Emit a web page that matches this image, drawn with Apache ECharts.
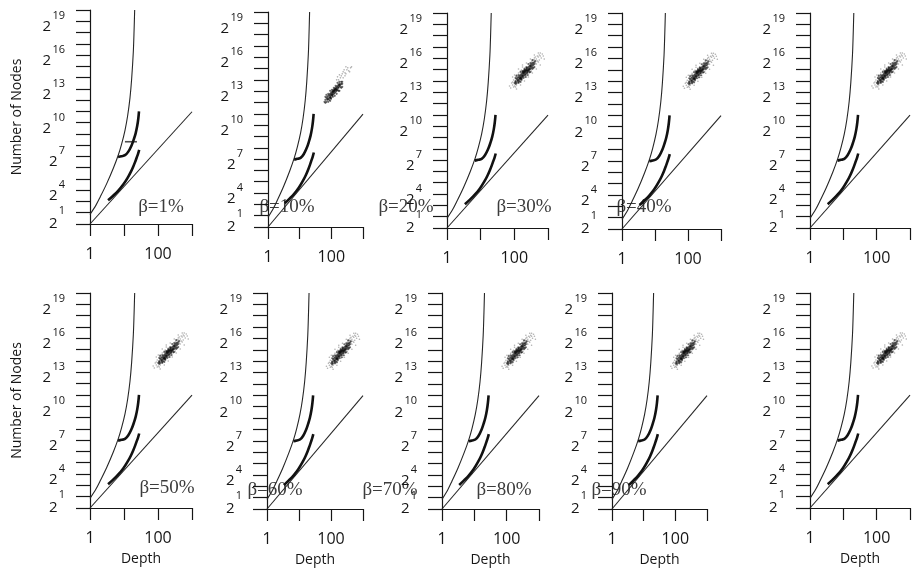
<!DOCTYPE html>
<html>
<head>
<meta charset="utf-8">
<script src="https://cdn.jsdelivr.net/npm/echarts@6/dist/echarts.min.js"></script>
<style>
html, body { margin: 0; padding: 0; background: #fff; }
#chart { width: 913px; height: 575px; }
</style>
</head>
<body>
<div id="chart"></div>
<script>
// ---- data ----------------------------------------------------------------
const betaLabels = ['β=1%', 'β=10%', 'β=20%', 'β=30%', 'β=40%',
                    'β=50%', 'β=60%', 'β=70%', 'β=80%', 'β=90%'];

// tick labels
const depthTickLabels = [1, 100];
const nodeTickExponents = [1, 4, 7, 10, 13, 16, 19];

// steep bound: [depth, nodes]
const upperBound = [[1, 1.8], [1.5, 3.2], [2, 5.3], [3.1, 12], [4.85, 31], [6.8, 70],
  [8.5, 137], [10.7, 320], [12.8, 780], [15, 2350], [16.8, 7600], [18.8, 40000],
  [19.8, 150000], [20.6, 524288]];

// linear bound: nodes = depth
const lowerBound = [[1, 1], [1000, 1000]];

// measured curves: [depth, nodes]
const upperCurve = [[6.7, 62], [8.5, 65], [10.7, 69], [13.4, 86], [16.8, 128], [19.5, 185],
  [22, 265], [24.5, 420], [26.3, 650], [27.6, 1024]];
const lowerCurve = [[3.4, 4.3], [4.8, 5.7], [6.8, 7.8], [9.5, 11.3], [13.4, 18.5], [16, 25],
  [18.9, 35], [21.5, 47], [23.7, 60], [26, 76], [28, 96]];

// crosshair mark on the β=1% panel
const markPoint1 = [[16, 158]];

// sampled trees for β=10%: [depth, nodes]
const cloud10Core = [
  [61, 2144], [65, 2421], [70, 2144], [70, 2738], [75, 2421], [75, 2911], [80, 2575], [80, 3092],
  [86, 2738], [86, 3291], [86, 2421], [92, 2911], [92, 3496], [92, 3092], [98, 3291], [98, 3718],
  [98, 2738], [105, 3496], [105, 3950], [105, 3092], [112, 3718], [112, 4200], [112, 3291],
  [120, 3950], [120, 4464], [120, 3496], [128, 4200], [128, 4743], [128, 3718], [137, 4464],
  [137, 3950], [137, 5043], [147, 4743], [147, 4200], [147, 5361], [157, 5043], [157, 4464],
  [157, 5699], [169, 5361], [169, 6059], [180, 5699], [180, 6439], [193, 6059], [206, 6439],
  [206, 7277], [221, 7277], [65, 2017],
  [65, 2911], [70, 3291], [80, 3496], [92, 4200], [105, 4464], [120, 5043], [137, 5699],
  [157, 6846], [180, 7277], [80, 2144], [92, 2278], [98, 2575], [112, 2911], [128, 3092],
  [147, 3496], [169, 4200], [180, 4200], [206, 5043], [221, 5361], [75, 2575], [112, 3950],
  [128, 4464], [147, 4464], [169, 5043], [193, 5361], [221, 6439], [92, 2738], [105, 3291],
  [120, 4200], [137, 4743], [180, 6059]];
const cloud10Halo = [
  [157, 9875], [180, 11160], [206, 10500], [236, 13400], [270, 12610], [310, 15140], [354, 14250],
  [406, 17120], [434, 18190], [221, 11860], [253, 15140], [289, 11860], [331, 17120], [193, 9290],
  [169, 8224], [236, 9290], [270, 10500], [379, 13400], [147, 8224], [289, 18190]];

// sampled trees for β >= 20%: [depth, nodes]
const cloudCore = [
  [102, 7220], [109, 8150], [109, 6790], [116, 7220], [116, 9220], [125, 8150], [125, 9800],
  [133, 8670], [133, 10410], [133, 7670], [143, 9220], [143, 11080], [143, 8150], [143, 9800],
  [153, 9800], [153, 11770], [153, 10410], [163, 11080], [163, 12520], [163, 9220], [163, 9800],
  [175, 11770], [175, 13300], [175, 10410], [175, 14140], [187, 12520], [187, 14140], [187, 11080],
  [187, 15030], [200, 13300], [200, 15030], [200, 11770], [200, 15970], [214, 14140], [214, 15970],
  [214, 12520], [214, 11770], [229, 15030], [229, 13300], [229, 16980], [229, 18050], [245, 15970],
  [245, 14140], [245, 18050], [245, 13300], [262, 16980], [262, 15030], [262, 19190], [262, 15970],
  [281, 18050], [281, 15970], [281, 20400], [300, 19190], [300, 16980], [300, 21680], [321, 20400],
  [321, 23050], [344, 21680], [344, 19190], [368, 24500],
  [109, 9800], [116, 11080], [133, 11770], [153, 14140], [175, 15030], [200, 16980], [229, 19190],
  [262, 23050], [300, 24500], [344, 29430], [133, 7220], [153, 7670], [163, 8670], [187, 9800],
  [214, 10410], [245, 11770], [281, 14140], [300, 14140], [344, 16980], [368, 18050], [393, 19190],
  [125, 8670], [187, 13300], [214, 15030], [245, 15030], [281, 16980], [321, 18050], [344, 24500],
  [368, 21680], [393, 23050], [109, 7670], [153, 9220], [175, 11080], [200, 14140], [229, 15970],
  [300, 20400], [393, 26040], [421, 27690]];
const cloudHalo = [
  [393, 29430], [421, 24500], [450, 31280], [482, 27690], [516, 35350], [552, 29430], [450, 23050],
  [393, 33250], [590, 37570], [632, 33250], [516, 26040], [368, 29430], [676, 42450], [482, 37570],
  [344, 27690], [421, 35350], [552, 39940], [723, 37570], [321, 26040], [590, 45130], [89, 6390],
  [95, 5650], [83, 7220], [102, 6010], [78, 5320], [109, 5650], [89, 7670], [72, 6010], [116, 6390],
  [95, 8670], [133, 13300], [163, 15970], [229, 10410], [281, 13300], [116, 11770], [200, 18050],
  [262, 11770], [153, 15030], [321, 15030], [175, 19190],
  [89, 10410], [102, 11770], [133, 16980], [175, 21680], [229, 24500], [300, 31280], [393, 39940],
  [516, 45130], [116, 5000], [153, 6390], [200, 8150], [262, 10410], [344, 13300], [450, 16980],
  [590, 21680], [774, 31280]];

// ---- layout --------------------------------------------------------------
const panels = [
  { left: 90,  top: 10,  width: 102, height: 214 },
  { left: 268, top: 12,  width: 95,  height: 215 },
  { left: 447, top: 13,  width: 101, height: 215 },
  { left: 622, top: 13,  width: 99,  height: 216 },
  { left: 810, top: 13,  width: 102, height: 215 },
  { left: 90,  top: 293, width: 102, height: 215 },
  { left: 267, top: 293, width: 96,  height: 216 },
  { left: 442, top: 293, width: 97,  height: 216 },
  { left: 612, top: 293, width: 95,  height: 216 },
  { left: 810, top: 293, width: 102, height: 215 }
];
const betaPos = [[161, 207], [287, 207], [406, 207], [524, 207], [644, 207],
                 [167, 488], [275, 490], [390, 490], [504, 490], [619, 490]];

const SANS = '"Open Sans", "Noto Sans", sans-serif';
const INK = '#161616';

// nodes are drawn on a base-2 exponent scale
const toPlot = arr => arr.map(([d, n]) => [d, Math.log2(n)]);

// "2" with a raised exponent, laid out as two right-aligned lines
const expRich = {
  s:  { fontSize: 11, lineHeight: 12, fontFamily: SANS, color: INK },
  bw: { fontSize: 15, lineHeight: 10, padding: [0, 14, 0, 0], fontFamily: SANS, color: INK },
  bn: { fontSize: 15, lineHeight: 10, padding: [0, 7.5, 0, 0], fontFamily: SANS, color: INK },
  s1: { fontSize: 11, lineHeight: 22, fontFamily: SANS, color: INK },
  b1: { fontSize: 15, lineHeight: 4, padding: [0, 7.5, 0, 0], fontFamily: SANS, color: INK }
};

const grids = [], xAxes = [], yAxes = [], series = [];

panels.forEach((p, i) => {
  grids.push({ left: p.left, top: p.top, width: p.width, height: p.height, containLabel: false });

  xAxes.push({
    type: 'log', logBase: 10, min: 1, max: 1000, gridIndex: i,
    axisLine: { onZero: false, lineStyle: { color: INK, width: 1.2 } },
    axisTick: { show: true, length: 12, lineStyle: { color: INK, width: 1.2 } },
    splitLine: { show: false },
    minorTick: { show: false },
    axisLabel: {
      margin: 22, fontSize: 16, fontFamily: SANS, color: INK,
      formatter: v => {
        const t = depthTickLabels.find(t => Math.abs(v - t) < 1e-6 * t);
        return t === undefined ? '' : String(t);
      }
    },
    name: i >= 5 ? 'Depth' : '',
    nameLocation: 'middle', nameGap: 44,
    nameTextStyle: { fontSize: 14, fontFamily: SANS, color: INK }
  });

  // main node axis: line, ticks and exponent labels 4..19
  yAxes.push({
    type: 'value', min: 0, max: 19, interval: 1, gridIndex: i, position: 'left',
    axisLine: { show: true, onZero: false, lineStyle: { color: INK, width: 1.2 } },
    axisTick: { show: true, length: 14, lineStyle: { color: INK, width: 1.2 } },
    splitLine: { show: false },
    axisLabel: {
      margin: 25, verticalAlign: 'top', rich: expRich,
      formatter: v => {
        if (v === 1 || nodeTickExponents.indexOf(v) < 0) return '';
        return '{s|' + v + '}\n{' + (v >= 10 ? 'bw' : 'bn') + '|2}';
      }
    },
    name: i % 5 === 0 ? 'Number of Nodes' : '',
    nameLocation: 'middle', nameGap: 66, nameRotate: 90,
    nameTextStyle: { fontSize: 14, fontFamily: SANS, color: INK }
  });
  // companion axis carrying the lowest exponent label, which sits higher on its tick
  yAxes.push({
    type: 'value', min: 0, max: 19, interval: 1, gridIndex: i, position: 'left',
    axisLine: { show: false }, axisTick: { show: false }, splitLine: { show: false },
    axisLabel: {
      margin: 25, verticalAlign: 'middle', rich: expRich,
      formatter: v => (v === 1 && nodeTickExponents.indexOf(v) >= 0) ? '{s1|' + v + '}\n{b1|2}' : ''
    }
  });

  const thin = { color: '#262626', width: 1.1 };
  const thick = { color: '#111', width: 2.6 };
  const common = { xAxisIndex: i, yAxisIndex: 2 * i, silent: true };

  series.push(
    Object.assign({ type: 'line', data: toPlot(upperBound), showSymbol: false, smooth: 0.3, lineStyle: thin }, common),
    Object.assign({ type: 'line', data: toPlot(lowerBound), showSymbol: false, lineStyle: thin }, common),
    Object.assign({ type: 'line', data: toPlot(upperCurve), showSymbol: false, smooth: 0.4, lineStyle: thick }, common),
    Object.assign({ type: 'line', data: toPlot(lowerCurve), showSymbol: false, smooth: 0.4, lineStyle: thick }, common)
  );

  if (i === 0) {
    series.push(Object.assign({
      type: 'scatter', data: toPlot(markPoint1), symbol: 'rect', symbolSize: [12, 1.6],
      itemStyle: { color: '#222' }
    }, common));
  } else {
    const core = i === 1 ? cloud10Core : cloudCore;
    const halo = i === 1 ? cloud10Halo : cloudHalo;
    series.push(
      Object.assign({ type: 'scatter', data: toPlot(halo), symbolSize: 1.6,
        itemStyle: { color: 'rgba(90,90,90,0.6)' } }, common),
      Object.assign({ type: 'scatter', data: toPlot(core), symbolSize: 2.2,
        itemStyle: { color: 'rgba(0,0,0,0.72)' } }, common)
    );
  }
});

const graphic = betaLabels.map((t, i) => ({
  type: 'text', x: betaPos[i][0], y: betaPos[i][1], silent: true,
  style: {
    text: t, font: '19px "Liberation Serif", serif', fill: '#3c3c3c',
    align: 'center', verticalAlign: 'middle', textAlign: 'center', textVerticalAlign: 'middle'
  }
}));

const chart = echarts.init(document.getElementById('chart'), null, { renderer: 'canvas' });
chart.setOption({
  animation: false,
  backgroundColor: '#fff',
  grid: grids,
  xAxis: xAxes,
  yAxis: yAxes,
  series: series,
  graphic: graphic
});
</script>
</body>
</html>
